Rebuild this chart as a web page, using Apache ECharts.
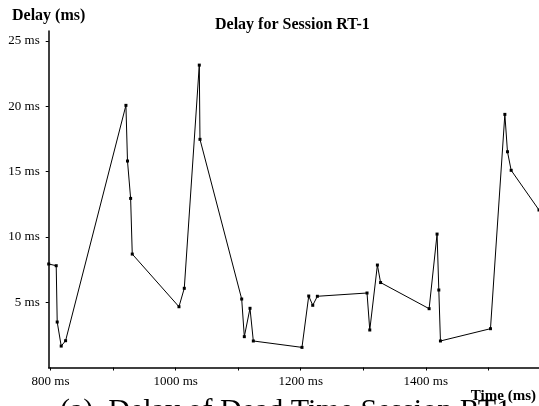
<!DOCTYPE html>
<html>
<head>
<meta charset="utf-8">
<script src="https://cdn.jsdelivr.net/npm/echarts@6/dist/echarts.min.js"></script>
<style>html,body{margin:0;padding:0;background:#fff;}#c{width:539px;height:406px;}</style>
</head>
<body>
<div id="c"></div>
<script>
var timesMs = [797, 809, 810.6, 817, 824, 920.5, 923, 928, 930.6, 1005.3, 1013.8, 1037.8, 1038.9, 1105.6, 1109.8, 1118.9, 1124.2, 1202, 1212.8, 1219.2, 1226.6, 1306, 1310.4, 1322.6, 1327.7, 1405.3, 1418, 1420.8, 1423.4, 1503.4, 1526.4, 1530.6, 1536.5, 1581];
var delaysMs = [7.92, 7.79, 3.48, 1.64, 2.05, 20.06, 15.8, 12.94, 8.68, 4.65, 6.06, 23.14, 17.46, 5.24, 2.36, 4.53, 2.03, 1.54, 5.47, 4.76, 5.45, 5.70, 2.87, 7.84, 6.50, 4.50, 10.21, 5.93, 2.03, 2.97, 19.37, 16.51, 15.09, 12.05];
var xTicks = [800, 900, 1000, 1100, 1200, 1300, 1400, 1500];
var xLabels = [800, 1000, 1200, 1400];
var yTicks = [5, 10, 15, 20, 25];

var data = timesMs.map(function (t, i) { return [t, delaysMs[i]]; });
var serif = 'Liberation Serif';
var chart = echarts.init(document.getElementById('c'), null, {renderer: 'canvas'});
chart.setOption({
  animation: false,
  backgroundColor: '#fff',
  grid: {left: 48.7, right: 0, top: 31, bottom: 38.5, containLabel: false},
  xAxis: {
    type: 'value', min: 797, max: 1581,
    axisLine: {show: true, lineStyle: {color: '#000', width: 1.5}},
    axisTick: {show: true, length: 3, lineStyle: {color: '#000'}, customValues: xTicks},
    axisLabel: {customValues: xLabels, margin: 8, color: '#000', fontFamily: serif, fontSize: 13,
      formatter: function (v) { return v + ' ms'; }},
    splitLine: {show: false}
  },
  yAxis: {
    type: 'value', min: 0, max: 25.75,
    axisLine: {show: true, lineStyle: {color: '#000', width: 1.5}},
    axisTick: {show: true, length: 3, lineStyle: {color: '#000'}, customValues: yTicks},
    axisLabel: {customValues: yTicks, margin: 9, color: '#000', fontFamily: serif, fontSize: 13,
      formatter: function (v) { return v + ' ms'; }},
    splitLine: {show: false}
  },
  series: [{
    type: 'line', data: data, clip: true,
    symbol: 'rect', symbolSize: 3, showAllSymbol: true,
    lineStyle: {color: '#000', width: 1},
    itemStyle: {color: '#000'}
  }],
  graphic: [
    {type: 'text', left: 12, top: 8, style: {text: 'Delay (ms)', font: 'bold 16px "Liberation Serif"', fill: '#000'}},
    {type: 'text', left: 215, top: 17, style: {text: 'Delay for Session RT-1', font: 'bold 16px "Liberation Serif"', fill: '#000'}},
    {type: 'text', left: 60, top: 396, z: 1, style: {text: '(a)  Delay of Dead Time Session RT1', font: '30px "Liberation Serif"', fill: '#000'}},
    {type: 'text', right: 3, top: 389, z: 10, style: {text: 'Time (ms)', font: 'bold 15px "Liberation Serif"', fill: '#000'}}
  ]
});
</script>
</body>
</html>
